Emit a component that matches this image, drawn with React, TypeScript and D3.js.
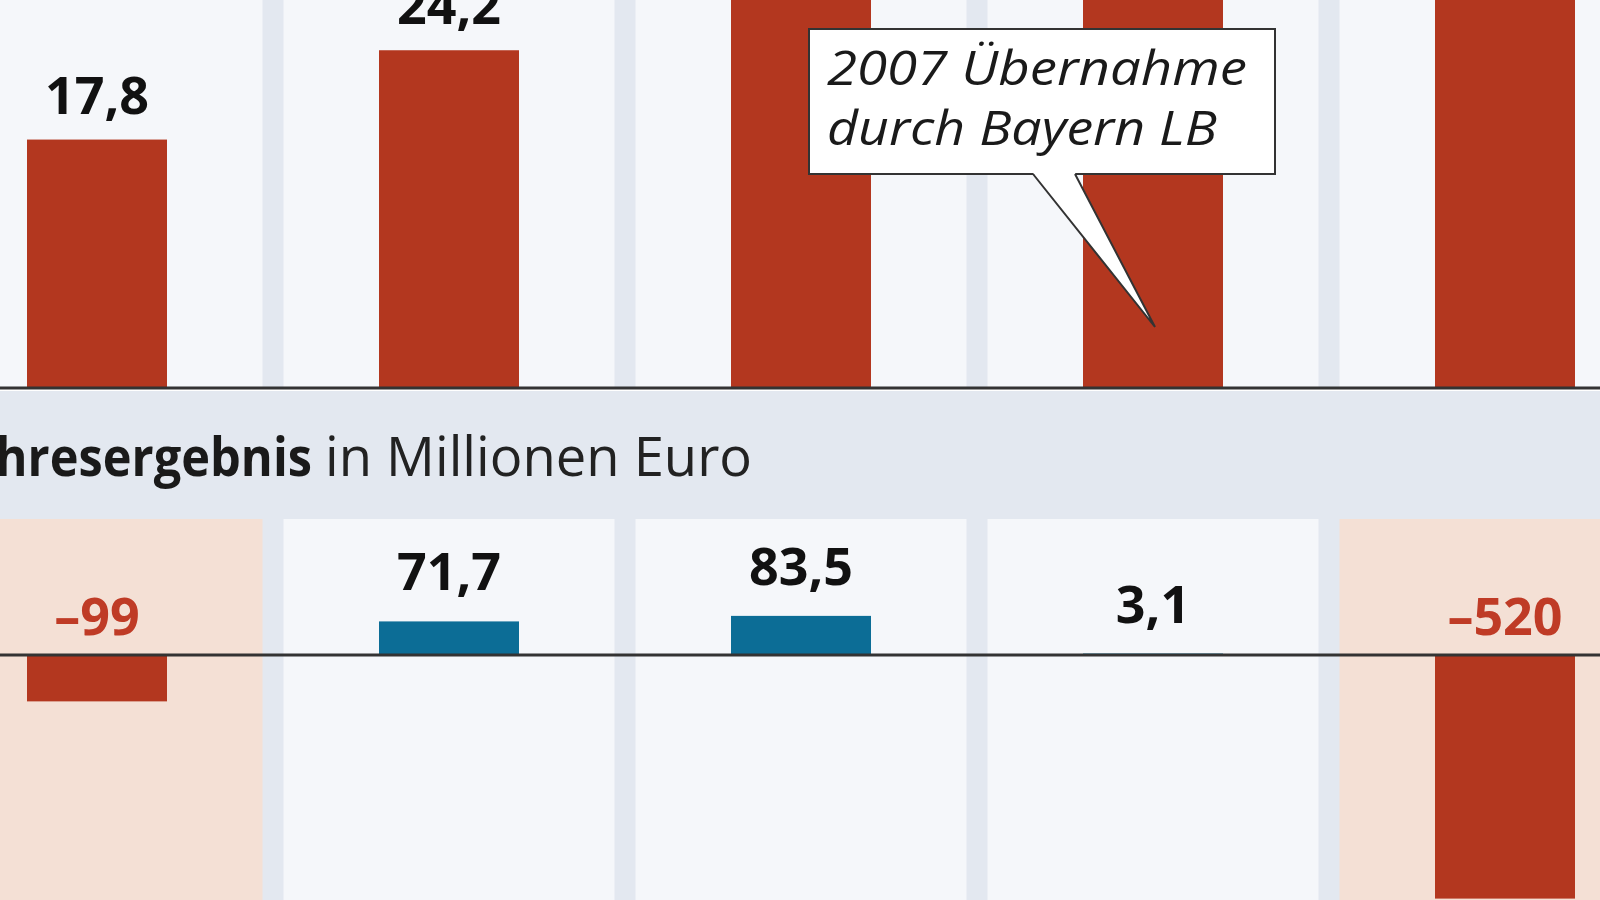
import React from "react";
import * as d3 from "d3";

// Years (categories) – not labelled in the visible crop
const years = ["2004", "2005", "2006", "2007", "2008"];
// Top panel: Bilanzsumme (Mrd. Euro) – bars 3–5 run off the top of the crop
const bilanz = [17.8, 24.2, 31.6, 37.9, 43.3];
const bilanzLabels = ["17,8", "24,2", "31,6", "37,9", "43,3"];
// Bottom panel: Jahresergebnis in Millionen Euro
const ergebnis = [-99, 71.7, 83.5, 3.1, -520];
const ergebnisLabels = ["–99", "71,7", "83,5", "3,1", "–520"];
const calloutYear = "2007";
const calloutLines = ["2007 Übernahme", "durch Bayern LB"];
const bandTitleBold = "Jahresergebnis";
const bandTitleRest = "in Millionen Euro";

const W = 1600;
const H = 900;
const RED = "#b3371f";
const BLUE = "#0c6d96";
const NEG_TEXT = "#bf3b26";
const PANEL = "#f5f7fa";
const SEP = "#e3e8f0";
const BAND = "#e3e8f0";
const PINK = "#f4e0d5";
const FONT = "'Open Sans', 'Noto Sans', sans-serif";

export default function App() {
  const step = 352;
  const firstCenter = 97;
  const x = d3
    .scaleBand<string>()
    .domain(years)
    .range([firstCenter - step / 2, firstCenter - step / 2 + step * years.length])
    .paddingInner(0)
    .paddingOuter(0);
  const barW = 140;
  const cx = (y: string) => (x(y) as number) + x.bandwidth() / 2;

  const topBase = 388;
  const yTop = d3.scaleLinear().domain([0, 27.8]).range([topBase, 0]);
  const bandTop = 391;
  const bandBottom = 519;
  const botBase = 655;
  const yBot = d3.scaleLinear().domain([0, -523]).range([botBase, H]);

  const sepW = 21;
  const boundaries = years.slice(0, -1).map((yr) => (x(yr) as number) + x.bandwidth());

  const tipX = cx(calloutYear) + 2;
  const tipY = 327;
  const box = { x: 809, y: 29, w: 466, h: 145 };

  return (
    <div style={{ position: "fixed", left: 0, top: 0, width: W, height: H }}>
      <svg width={W} height={H} style={{ display: "block", fontFamily: FONT }}>
        {/* top panel background */}
        <rect x={0} y={0} width={W} height={topBase} fill={PANEL} />
        {boundaries.map((b, i) => (
          <rect key={"st" + i} x={b - sepW / 2} y={0} width={sepW} height={topBase} fill={SEP} />
        ))}

        {/* bottom panel background */}
        <rect x={0} y={bandBottom} width={W} height={H - bandBottom} fill={PANEL} />
        {years.map((yr, i) => {
          if (ergebnis[i] >= 0) return null;
          const left = x(yr) as number;
          const right = left + x.bandwidth();
          const x0 = i === 0 ? left - 200 : left;
          const x1 = i === years.length - 1 ? right + 200 : right;
          return (
            <rect key={"pk" + yr} x={x0} y={bandBottom} width={x1 - x0} height={H - bandBottom} fill={PINK} />
          );
        })}
        {boundaries.map((b, i) => (
          <rect key={"sb" + i} x={b - sepW / 2} y={bandBottom} width={sepW} height={H - bandBottom} fill={SEP} />
        ))}

        {/* band with title */}
        <rect x={0} y={bandTop} width={W} height={bandBottom - bandTop} fill={BAND} />
        <text x={-50} y={476} fontSize={54} fill="#1a1a1a" fontWeight={700} textLength={362} lengthAdjust="spacingAndGlyphs">
          {bandTitleBold}
        </text>
        <text x={325} y={476} fontSize={54} fill="#222" textLength={427} lengthAdjust="spacingAndGlyphs">
          {bandTitleRest}
        </text>

        {/* top bars */}
        {years.map((yr, i) => (
          <rect
            key={"tb" + yr}
            x={cx(yr) - barW / 2}
            y={yTop(bilanz[i])}
            width={barW}
            height={topBase - yTop(bilanz[i])}
            fill={RED}
          />
        ))}
        {years.map((yr, i) => (
          <text
            key={"tl" + yr}
            x={cx(yr)}
            y={yTop(bilanz[i]) - 26}
            textAnchor="middle"
            fontSize={52}
            fontWeight={700}
            fill="#111"
          >
            {bilanzLabels[i]}
          </text>
        ))}
        <rect x={0} y={topBase - 1.5} width={W} height={3} fill="#333" />

        {/* bottom bars */}
        {years.map((yr, i) => {
          const v = ergebnis[i];
          const y0 = yBot(Math.max(0, v));
          const y1 = yBot(Math.min(0, v));
          return (
            <rect
              key={"bb" + yr}
              x={cx(yr) - barW / 2}
              y={y0}
              width={barW}
              height={y1 - y0}
              fill={v < 0 ? RED : BLUE}
            />
          );
        })}
        {years.map((yr, i) => {
          const v = ergebnis[i];
          const ly = v < 0 ? botBase - 20 : yBot(v) - 31;
          return (
            <text
              key={"bl" + yr}
              x={cx(yr)}
              y={ly}
              textAnchor="middle"
              fontSize={52}
              fontWeight={700}
              fill={v < 0 ? NEG_TEXT : "#111"}
            >
              {ergebnisLabels[i]}
            </text>
          );
        })}
        <rect x={0} y={botBase - 1.5} width={W} height={3} fill="#333" />

        {/* callout */}
        <rect x={box.x} y={box.y} width={box.w} height={box.h} fill="#fff" stroke="#333" strokeWidth={2} />
        <polygon
          points={`${1033},${box.y + box.h - 1} ${1075},${box.y + box.h - 1} ${tipX},${tipY}`}
          fill="#fff"
        />
        <polyline
          points={`${1033},${box.y + box.h} ${tipX},${tipY} ${1075},${box.y + box.h}`}
          fill="none"
          stroke="#333"
          strokeWidth={2}
          strokeLinejoin="miter"
        />
        {calloutLines.map((t, i) => (
          <text
            key={"cl" + i}
            x={827}
            y={85 + i * 60}
            fontSize={48}
            fontStyle="italic"
            fill="#1a1a1a"
            textLength={i === 0 ? 420 : 390}
            lengthAdjust="spacingAndGlyphs"
          >
            {t}
          </text>
        ))}
      </svg>
    </div>
  );
}
